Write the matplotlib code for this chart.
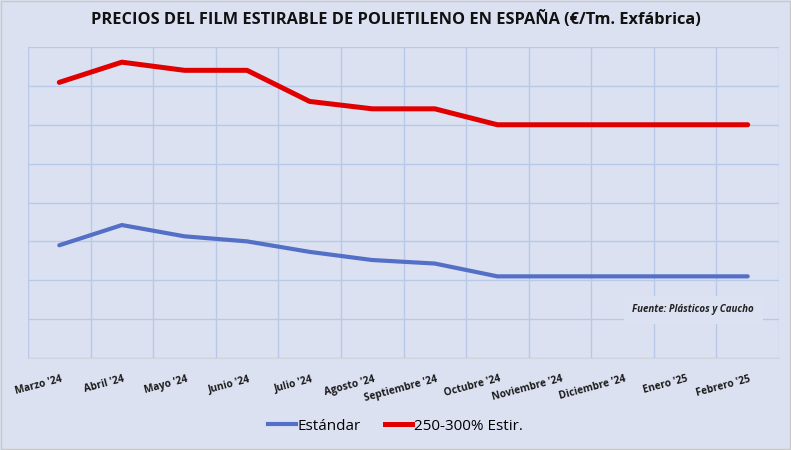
import numpy as np
import matplotlib.pyplot as plt
from matplotlib.lines import Line2D

# Data (€/Tm)
meses = ["Marzo '24", "Abril '24", "Mayo '24", "Junio '24", "Julio '24",
         "Agosto '24", "Septiembre '24", "Octubre '24", "Noviembre '24",
         "Diciembre '24", "Enero '25", "Febrero '25"]
estandar = [1290, 1342, 1313, 1300, 1273, 1252, 1243, 1210, 1210, 1210, 1210, 1210]
estir = [1709, 1761, 1740, 1740, 1660, 1641, 1641, 1600, 1600, 1600, 1600, 1600]

bg = "#DCE1F2"
grid_c = "#B7C8E8"
blue = "#5470C6"
red = "#E00000"

plt.rcParams["font.family"] = ["Open Sans", "DejaVu Sans"]

fig = plt.figure(figsize=(7.91, 4.5), dpi=100, facecolor=bg)
ax = fig.add_axes([28 / 791, 1 - 358 / 450, 751 / 791, 311 / 450])
ax.set_facecolor(bg)

x = np.arange(len(meses))
ax.plot(x, estandar, color=blue, lw=3.0, solid_capstyle="round", zorder=3)
ax.plot(x, estir, color=red, lw=3.6, solid_capstyle="round", zorder=3)

ax.set_xlim(-0.5, len(meses) - 0.5)
ax.set_ylim(1000, 1800)
ax.set_yticks(np.arange(1000, 1801, 100))
ax.set_yticklabels([])
ax.set_xticks(np.arange(-0.5, len(meses), 1.0))
ax.set_xticklabels([])
ax.tick_params(length=0)
ax.grid(True, color=grid_c, lw=1.0)
for s in ["top", "left", "right"]:
    ax.spines[s].set_visible(False)
ax.spines["bottom"].set_color("#D0D4DE")

for i, m in enumerate(meses):
    ax.text(i + 0.02, -0.05, m, transform=ax.get_xaxis_transform(),
            rotation=15, rotation_mode="anchor", ha="right", va="top",
            fontsize=7.3, fontweight="bold", color="#1a1a1a")

fig.text(0.5, 1 - 20 / 450,
         "PRECIOS DEL FILM ESTIRABLE DE POLIETILENO EN ESPAÑA (€/Tm. Exfábrica)",
         ha="center", va="center", fontsize=11.8, fontweight="bold", color="#111111")

ax.text(0.967, 0.155, "Fuente: Plásticos y Caucho", transform=ax.transAxes,
        ha="right", va="center", fontsize=7, fontstyle="italic", fontweight="bold",
        color="#222222", zorder=4,
        bbox=dict(boxstyle="square,pad=0.9", facecolor="#DDE2F2", edgecolor="none"))

handles = [Line2D([], [], color=blue, lw=3.0), Line2D([], [], color=red, lw=3.6)]
fig.legend(handles, ["Estándar", "250-300% Estir."], loc="center",
           bbox_to_anchor=(0.5, 1 - 426 / 450), ncol=2, frameon=False,
           fontsize=11, handlelength=1.8, handletextpad=0.1, columnspacing=1.6)

fig.patches.append(plt.Rectangle((0.001, 0.003), 0.998, 0.995, transform=fig.transFigure,
                                 fill=False, edgecolor="#C8C8C8", lw=1))

fig.savefig("out.png", dpi=100, facecolor=bg)
